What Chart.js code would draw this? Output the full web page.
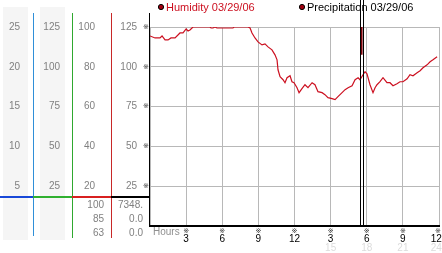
<!DOCTYPE html>
<html>
<head>
<meta charset="utf-8">
<script src="https://cdn.jsdelivr.net/npm/chart.js@4/dist/chart.umd.min.js"></script>
<style>
  body { margin: 0; background: #fff; }
  canvas { display: block; }
</style>
</head>
<body>
<canvas id="chart" width="442" height="253"></canvas>
<script>
// humidity trace, hours since midnight
const hours = [0, 0.42, 0.83, 1.0, 1.25, 1.5, 1.74, 2.08, 2.49, 2.74, 3.0, 3.16, 3.32, 3.57, 4.15, 4.98,
  5.07, 5.23, 5.4, 5.56, 6.89, 6.98, 8.14, 8.31, 8.47, 8.72, 8.97, 9.3, 9.55, 9.8, 10.13, 10.38,
  10.55, 10.63, 10.8, 11.05, 11.21, 11.38, 11.63, 11.79, 11.96, 12.21, 12.38, 12.62, 12.87, 13.12,
  13.46, 13.7, 13.95, 14.29, 14.53, 14.78, 15.12, 15.37, 15.61, 15.95, 16.2, 16.45, 16.78, 17.03,
  17.28, 17.44, 17.69, 17.86, 18.02, 18.27, 18.52, 18.69, 18.85, 19.1, 19.35, 19.68, 19.93, 20.18,
  20.51, 20.76, 21.01, 21.35, 21.59, 21.84, 22.18, 22.43, 22.67, 23.01, 23.26, 23.5, 23.84];
const humidity = [95.5, 94.5, 94.5, 95.5, 93.5, 93.5, 94.5, 94.5, 97, 97, 99, 98, 98.5, 100, 100, 100,
  99.5, 99.5, 100, 99.5, 99.5, 100, 100, 99.5, 97, 94.5, 92.5, 91, 91.5, 90, 88.5, 86,
  83.5, 78.5, 75, 73.5, 72, 74.5, 75.5, 72.5, 72, 69.5, 67, 69, 71, 69.5,
  72, 71, 67.5, 67, 66, 64.5, 64, 63.5, 65, 67, 68.5, 69.5, 70.5, 73.5,
  74.5, 73.5, 76, 77.5, 76.5, 71, 67, 69.5, 71, 72.5, 74.5, 72, 72, 70.5,
  71.5, 72.5, 72.5, 74, 76, 75.5, 77, 78, 79.5, 81, 82.5, 83.5, 85];

const precipHours = [17.57, 17.57];
const precipValues = [100, 86];
const nowHour = 17.57;

const humidityReadout = ['100', '85', '63'];
const precipReadout = ['7348.', '0.0', '0.0'];

const FONT = '"Liberation Sans", Arial, sans-serif';

const leftAxis = (max, step, pad, weight, w) => ({
  position: 'left',
  min: 0,
  max: max,
  weight: weight,
  grid: { display: false, drawTicks: false },
  border: { display: false },
  ticks: {
    stepSize: step,
    padding: pad,
    color: '#808080',
    font: { family: FONT, size: 10 },
    callback: v => v === 0 ? '' : String(v)
  },
  afterFit: s => { s.width = w; s.paddingTop = 0; s.paddingBottom = 0; }
});

const panel = {
  id: 'panel',
  beforeDraw(chart) {
    const ctx = chart.ctx;
    const { c1, c2 } = chart.scales;
    ctx.save();
    ctx.fillStyle = '#f5f5f5';
    ctx.fillRect(c1.left + 3, 7, c1.width - 8, 233);
    ctx.fillRect(c2.left + 7, 7, c2.width - 14, 233);
    ctx.restore();
  },
  afterDraw(chart) {
    const ctx = chart.ctx;
    const { c1, c2, yH, y, x } = chart.scales;
    const area = chart.chartArea;
    const split = area.bottom - 29;
    ctx.save();

    // column dividers
    const vline = (px, y0, y1, color) => {
      ctx.fillStyle = color;
      ctx.fillRect(Math.round(px), y0, 1, y1 - y0);
    };
    vline(c1.right, 13, 236, '#2f8fd8');
    vline(c2.right, 13, 238, '#2fa82f');
    vline(yH.right, 13, 238, '#c82828');
    vline(area.left - 1, 13, area.bottom, '#000');

    // colored split line
    const hseg = (x0, x1, color) => {
      ctx.fillStyle = color;
      ctx.fillRect(x0, split - 1, x1 - x0, 2);
    };
    hseg(c1.left, c1.right, '#1848d8');
    hseg(c2.left, c2.right, '#30b030');
    hseg(yH.left, yH.right, '#d82020');
    hseg(y.left, y.right, '#000');

    // readouts below the split
    ctx.font = '10px ' + FONT;
    ctx.fillStyle = '#808080';
    ctx.textAlign = 'right';
    ctx.textBaseline = 'middle';
    humidityReadout.forEach((t, i) => ctx.fillText(t, yH.right - 7, split + 8 + i * 14));
    precipReadout.forEach((t, i) => ctx.fillText(t, y.right - 7, split + 8 + i * 14));

    // reference marks
    ctx.fillStyle = '#333';
    ctx.font = '7px "DejaVu Sans", sans-serif';
    ctx.textAlign = 'center';
    y.ticks.forEach(t => {
      if (t.value > 0) ctx.fillText('\u203b', y.right - 4, y.getPixelForValue(t.value));
    });
    x.ticks.forEach(t => {
      if (t.value > 0) ctx.fillText('\u203b', Math.min(x.getPixelForValue(t.value), 438), area.bottom + 5);
    });

    ctx.font = '10px ' + FONT;
    ctx.fillStyle = '#909090';
    ctx.textAlign = 'left';
    ctx.fillText('Hours', area.left + 3, area.bottom + 6);

    // now marker
    const nx = x.getPixelForValue(nowHour);
    ctx.fillStyle = '#000';
    ctx.fillRect(Math.round(nx) - 2, 0, 1, area.bottom);
    ctx.fillRect(Math.round(nx) + 1, 0, 1, area.bottom);

    // legend
    const legendX = [157, 298];
    const legendText = ['#cc1020', '#000'];
    ctx.font = '11px ' + FONT;
    ctx.textBaseline = 'alphabetic';
    chart.data.datasets.forEach((ds, i) => {
      ctx.beginPath();
      ctx.arc(legendX[i] + 4, 7, 2.6, 0, Math.PI * 2);
      ctx.fillStyle = '#a00010';
      ctx.fill();
      ctx.strokeStyle = '#000';
      ctx.lineWidth = 1;
      ctx.stroke();
      ctx.fillStyle = legendText[i];
      ctx.fillText(ds.label, legendX[i] + 9, 11);
    });
    ctx.restore();
  }
};

new Chart(document.getElementById('chart'), {
  type: 'line',
  data: {
    datasets: [{
      label: 'Humidity 03/29/06',
      data: hours.map((h, i) => ({ x: h, y: humidity[i] })),
      yAxisID: 'yH',
      borderColor: '#cc1020',
      borderWidth: 1.2,
      pointRadius: 0,
      tension: 0
    }, {
      label: 'Precipitation 03/29/06',
      data: precipHours.map((h, i) => ({ x: h, y: precipValues[i] })),
      yAxisID: 'yH',
      borderColor: '#7a0008',
      borderWidth: 2,
      pointRadius: 0
    }]
  },
  options: {
    responsive: false,
    animation: false,
    layout: { padding: { top: 27, right: 3, left: 0, bottom: 0 } },
    plugins: { legend: { display: false }, tooltip: { enabled: false } },
    scales: {
      x: {
        type: 'linear',
        position: 'bottom',
        min: 0,
        max: 24,
        weight: 0,
        grid: { color: '#b8b8b8', drawTicks: false },
        border: { color: '#000', width: 2 },
        ticks: {
          stepSize: 3,
          padding: 7,
          autoSkip: false,
          maxRotation: 0,
          color: '#000',
          font: { family: FONT, size: 10 },
          callback: v => v === 0 ? '' : (v === 24 ? '12  ' : String((v - 1) % 12 + 1))
        },
        afterFit: s => { s.height = 16; s.paddingLeft = 0; s.paddingRight = 0; }
      },
      x2: {
        type: 'linear',
        position: 'bottom',
        min: 0,
        max: 24,
        weight: 1,
        grid: { display: false, drawTicks: false },
        border: { display: false },
        ticks: {
          stepSize: 3,
          padding: 0,
          autoSkip: false,
          maxRotation: 0,
          color: '#dcdcdc',
          font: { family: FONT, size: 10 },
          callback: v => v >= 15 ? (v === 24 ? '24  ' : String(v)) : ''
        },
        afterFit: s => { s.height = 11; s.paddingLeft = 0; s.paddingRight = 0; }
      },
      y: Object.assign(leftAxis(125, 25, 13, 1, 39), {
        grid: { display: true, color: '#b8b8b8', drawTicks: false }
      }),
      yH: leftAxis(100, 20, 16, 2, 39),
      c2: leftAxis(125, 25, 12, 3, 39),
      c1: leftAxis(25, 5, 13, 4, 33)
    }
  },
  plugins: [panel]
});
</script>
</body>
</html>
